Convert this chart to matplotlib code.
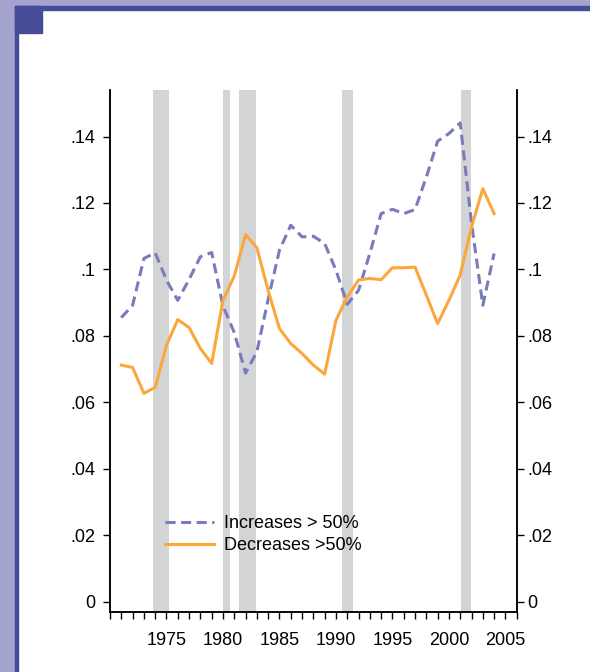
import matplotlib
matplotlib.use("Agg")
import matplotlib.pyplot as plt
from matplotlib.patches import Rectangle
from matplotlib.ticker import FuncFormatter, MultipleLocator

plt.rcParams["font.family"] = ["Liberation Sans", "DejaVu Sans"]

years = list(range(1971, 2005))
increases = [0.0855, 0.0892, 0.1033, 0.1050, 0.0968, 0.0907, 0.0970, 0.1038,
             0.1051, 0.0890, 0.0810, 0.0688, 0.0752, 0.0910, 0.1058, 0.1133,
             0.1098, 0.1100, 0.1078, 0.0998, 0.0895, 0.0937, 0.1048, 0.1168,
             0.1181, 0.1168, 0.1180, 0.1278, 0.1386, 0.1409, 0.1441, 0.1140,
             0.0892, 0.1048]
decreases = [0.0712, 0.0705, 0.0627, 0.0645, 0.0772, 0.0849, 0.0825, 0.0762,
             0.0717, 0.0907, 0.0980, 0.1105, 0.1065, 0.0937, 0.0822, 0.0777,
             0.0747, 0.0712, 0.0685, 0.0847, 0.0917, 0.0968, 0.0973, 0.0969,
             0.1005, 0.1005, 0.1007, 0.0923, 0.0837, 0.0907, 0.0983, 0.1128,
             0.1243, 0.1168]
# recession periods (start, end)
recessions = [(1973.85, 1975.2), (1980.0, 1980.6), (1981.45, 1982.95),
              (1990.5, 1991.55), (2001.05, 2001.95)]

DASH_COLOR = "#7B7BBB"
SOLID_COLOR = "#FBA73C"
SHADE_COLOR = "#D3D4D6"
FS = 13

fig = plt.figure(figsize=(5.9, 6.72), dpi=100)

# decorative frame (lavender band + dark blue edge + corner square)
W, H = 590.0, 672.0
def px_rect(x0, y0, x1, y1, color):
    fig.patches.append(Rectangle((x0 / W, 1 - y1 / H), (x1 - x0) / W, (y1 - y0) / H,
                                 transform=fig.transFigure, color=color, zorder=0))
px_rect(0, 0, W, 6, "#A4A4CE")
px_rect(0, 0, 15, H, "#A4A4CE")
px_rect(15, 6, W, 10, "#474C99")
px_rect(15, 6, 18, H, "#474C99")
px_rect(15, 6, 42, 33, "#474C99")

ax = fig.add_axes([110 / W, 1 - 612 / H, 406.7 / W, 522 / H])

for a, b in recessions:
    ax.axvspan(a, b, color=SHADE_COLOR, lw=0, zorder=1)

ax.plot(years, increases, color=DASH_COLOR, lw=2.2, ls=(0, (3.3, 1.8)),
        label="Increases > 50%", zorder=3)
ax.plot(years, decreases, color=SOLID_COLOR, lw=2.2,
        label="Decreases >50%", zorder=3)

ax.set_xlim(1970, 2006)
ax.set_ylim(-0.0031, 0.154)
ax.xaxis.set_minor_locator(MultipleLocator(1))
ax.set_xticks(range(1975, 2006, 5))
ax.yaxis.set_major_locator(MultipleLocator(0.02))


def fmt(v, pos):
    if abs(v) < 1e-9:
        return "0"
    return ("%.2f" % v).lstrip("0").rstrip("0")


ax.yaxis.set_major_formatter(FuncFormatter(fmt))
ax.tick_params(axis="both", which="both", direction="out", length=5.3,
               width=1.0, labelsize=FS, color="black")
ax.tick_params(axis="x", which="both", pad=9)
ax.tick_params(axis="y", pad=5.5)

# right-hand y labels sit closer to their ticks
ax2 = ax.twinx()
ax2.set_ylim(ax.get_ylim())
ax2.yaxis.set_major_locator(MultipleLocator(0.02))
ax2.yaxis.set_major_formatter(FuncFormatter(fmt))
ax2.tick_params(axis="y", direction="out", length=5.3, width=1.0,
                labelsize=FS, pad=2.2)

for a in (ax, ax2):
    a.spines["top"].set_visible(False)
    for s in ("left", "right", "bottom"):
        a.spines[s].set_linewidth(1.1)

ax.legend(loc="upper left", bbox_to_anchor=(0.135, 0.186), frameon=False,
          fontsize=FS, handlelength=2.7, handletextpad=0.6,
          labelspacing=0.29, borderpad=0, borderaxespad=0)

fig.savefig("out.png", dpi=100)
